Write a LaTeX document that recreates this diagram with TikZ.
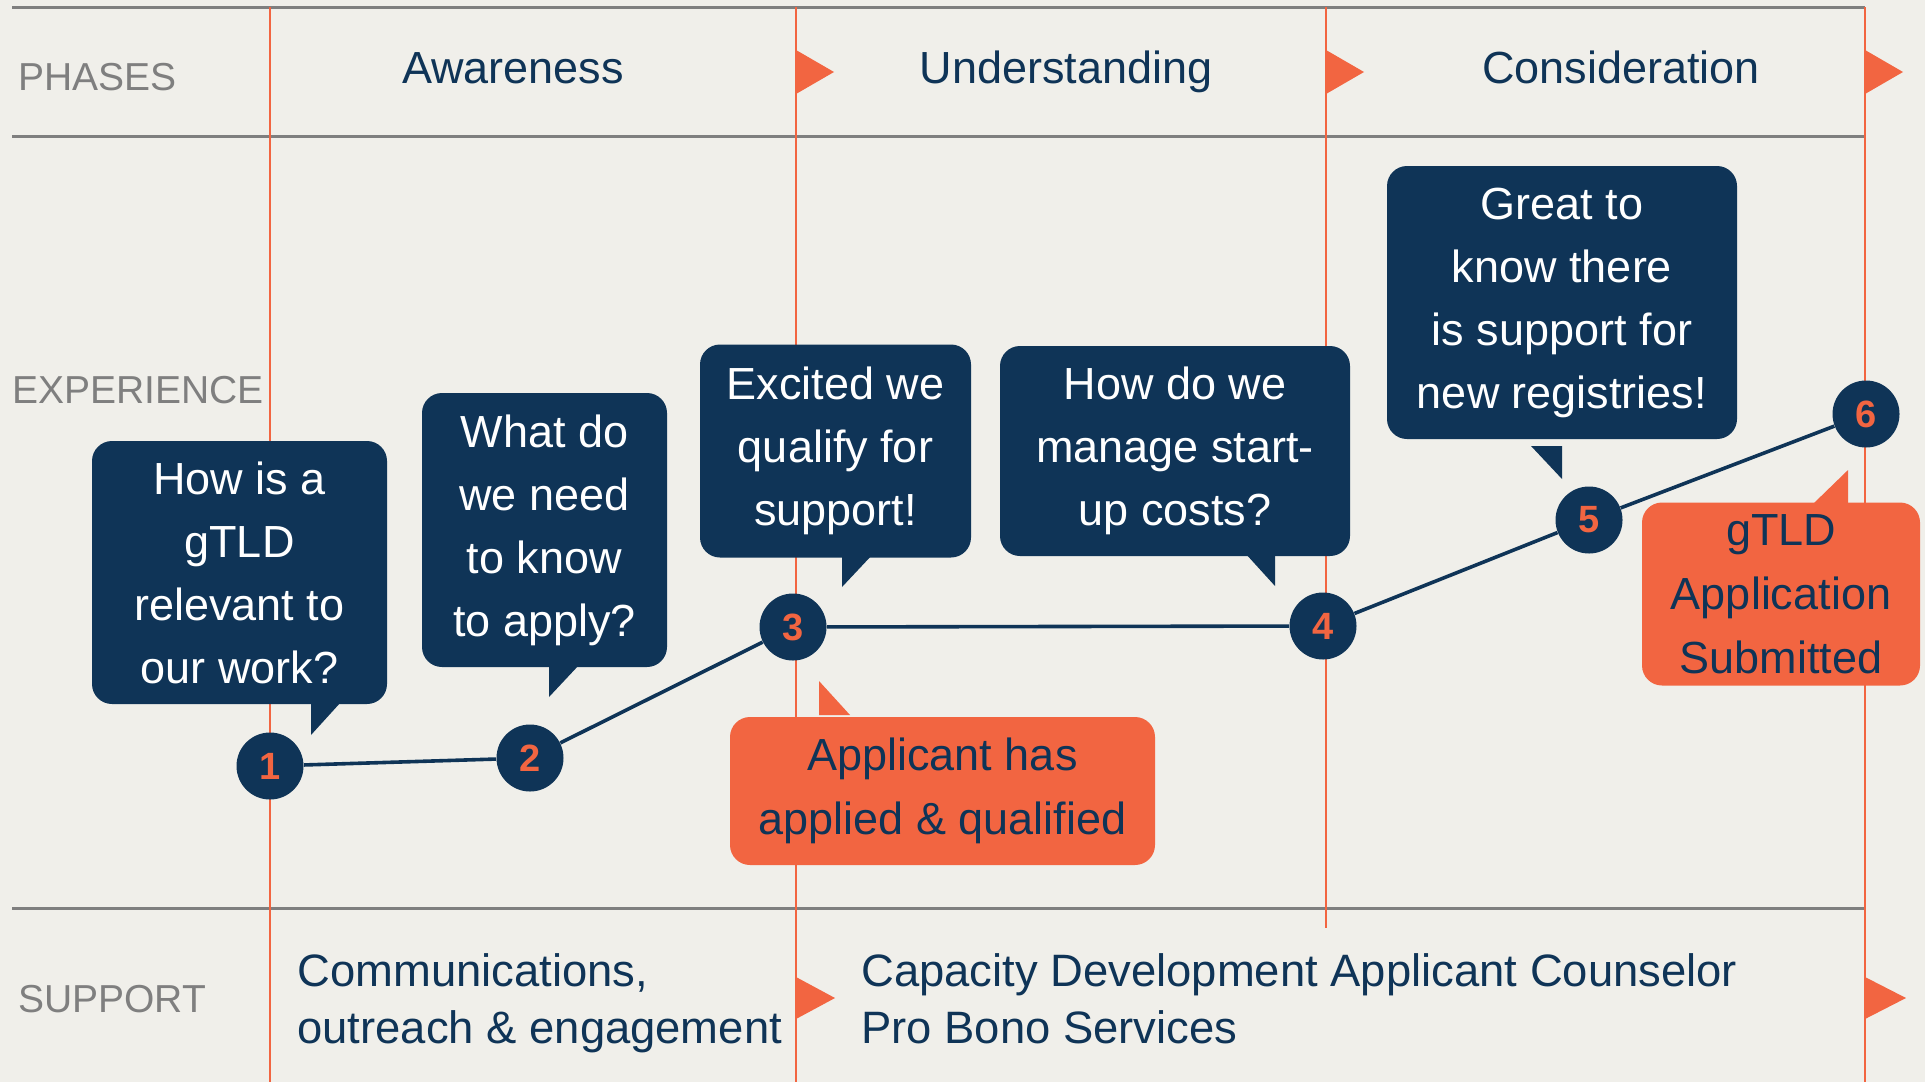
\documentclass[tikz,border=0pt]{standalone}
\usepackage{fontspec}
\setmainfont{Liberation Sans}

\definecolor{navy}{HTML}{0F3457}
\definecolor{flame}{HTML}{F26541}
\definecolor{paper}{HTML}{F0EFEA}
\definecolor{rulegray}{HTML}{7F7F7F}

\begin{document}
\begin{tikzpicture}[x=0.5pt, y=-0.5pt,
        bubble/.style={fill=navy, text=white, rounded corners=10pt, align=center, inner sep=0pt, font=\fontsize{22.5}{31.5}\selectfont},
        badge/.style={fill=flame, text=navy, rounded corners=10pt, align=center, inner sep=0pt, font=\fontsize{22.5}{32}\selectfont},
        stage/.style={circle, fill=navy, text=flame, minimum size=33.5pt, inner sep=0pt, font=\fontsize{19}{19}\selectfont\bfseries},
        trail/.style={draw=navy, line width=1.8pt},
        phase/.style={text=navy, anchor=base, inner sep=0pt, font=\fontsize{22.5}{27}\selectfont},
        lane/.style={text=rulegray, anchor=base west, inner sep=0pt, font=\fontsize{19.5}{23}\selectfont},
        help/.style={text=navy, anchor=base west, align=left, inner sep=0pt, font=\fontsize{22.7}{28.5}\selectfont},
        divider/.style={draw=rulegray, line width=1.5pt},
        phaseline/.style={draw=flame, line width=1.3pt}]

            % Background and frame
            \useasboundingbox (0,0) rectangle (1925,1082);
            \fill[paper] (0,0) rectangle (1925,1082);

            \draw[divider] (12,7) -- (1865,7);
            \draw[divider] (12,136) -- (1865,136);
            \draw[divider] (12,908) -- (1865,908);

            % Phase boundaries with their flags
            \draw[phaseline] (270,7) -- (270,1082);
            \draw[phaseline] (796,7) -- (796,1082);
            \draw[phaseline] (1326,7) -- (1326,928);
            \draw[phaseline] (1865,7) -- (1865,1082);

            \fill[flame] (796,50) -- (834,72) -- (796,94) -- cycle;
            \fill[flame] (1326,50) -- (1364,72) -- (1326,94) -- cycle;
            \fill[flame] (1865,50) -- (1903,72) -- (1865,94) -- cycle;
            \fill[flame] (796,977) -- (835,998) -- (796,1019) -- cycle;
            \fill[flame] (1865,977) -- (1906,998) -- (1865,1019) -- cycle;

            % Row labels and phase titles
            \node[lane] (phases) at (18,90) {PHASES};
            \node[lane] (experience) at (12,403) {EXPERIENCE};
            \node[lane] (support) at (18,1012) {SUPPORT};

            \node[phase] (awareness) at (513,83) {Awareness};
            \node[phase] (understanding) at (1066,83) {Understanding};
            \node[phase] (consideration) at (1621,83) {Consideration};

            % Speech bubbles
            \node[bubble, minimum width=147.5pt, minimum height=131.5pt] (Q1) at (239.5,572.5) {How is a\\gTLD\\relevant to\\our work?};
            \fill[navy] (311,702) -- (341,702) -- (311,735) -- cycle;

            \node[bubble, minimum width=122.5pt, minimum height=137pt] (Q2) at (544.5,530) {What do\\we need\\to know\\to apply?};
            \fill[navy] (549,665) -- (579,665) -- (549,697) -- cycle;

            \node[bubble, minimum width=135.5pt, minimum height=106.5pt] (Q3) at (835.5,451) {Excited we\\qualify for\\support!};
            \fill[navy] (842,554) -- (873,554) -- (842,587) -- cycle;

            \node[bubble, minimum width=175pt, minimum height=105pt] (Q4) at (1175,451) {How do we\\manage start-\\up costs?};
            \fill[navy] (1245,553) -- (1275,553) -- (1275,586) -- cycle;

            \node[bubble, minimum width=175pt, minimum height=136.5pt] (Q5) at (1562,302.5) {Great to\\know there\\is support for\\new registries!};
            \fill[navy] (1531,446) -- (1562,446) -- (1562,479) -- cycle;

            % Milestone boxes
            \node[badge, minimum width=212.5pt, minimum height=74pt] (qualified) at (942.5,791) {Applicant has\\applied \& qualified};
            \fill[flame] (819,681) -- (819,715) -- (850,715) -- cycle;

            \node[badge, minimum width=139pt, minimum height=91.5pt] (submitted) at (1781,594) {gTLD\\Application\\Submitted};
            \fill[flame] (1814,503) -- (1848,470) -- (1848,503) -- cycle;

            % Journey steps
            \node[stage] (s1) at (270,766) {1};
            \node[stage] (s2) at (530,758) {2};
            \node[stage] (s3) at (793,627) {3};
            \node[stage] (s4) at (1323,626) {4};
            \node[stage] (s5) at (1589,520) {5};
            \node[stage] (s6) at (1866,414) {6};

            \path[trail] (s1) edge (s2);
            \path[trail] (s2) edge (s3);
            \path[trail] (s3) edge (s4);
            \path[trail] (s4) edge (s5);
            \path[trail] (s5) edge (s6);

            % Support offers
            \node[help] (outreach) at (297,1043) {Communications,\\outreach \& engagement};
            \node[help] (counsel) at (861,1043) {Capacity Development Applicant Counselor\\Pro Bono Services};
        \end{tikzpicture}
\end{document}
